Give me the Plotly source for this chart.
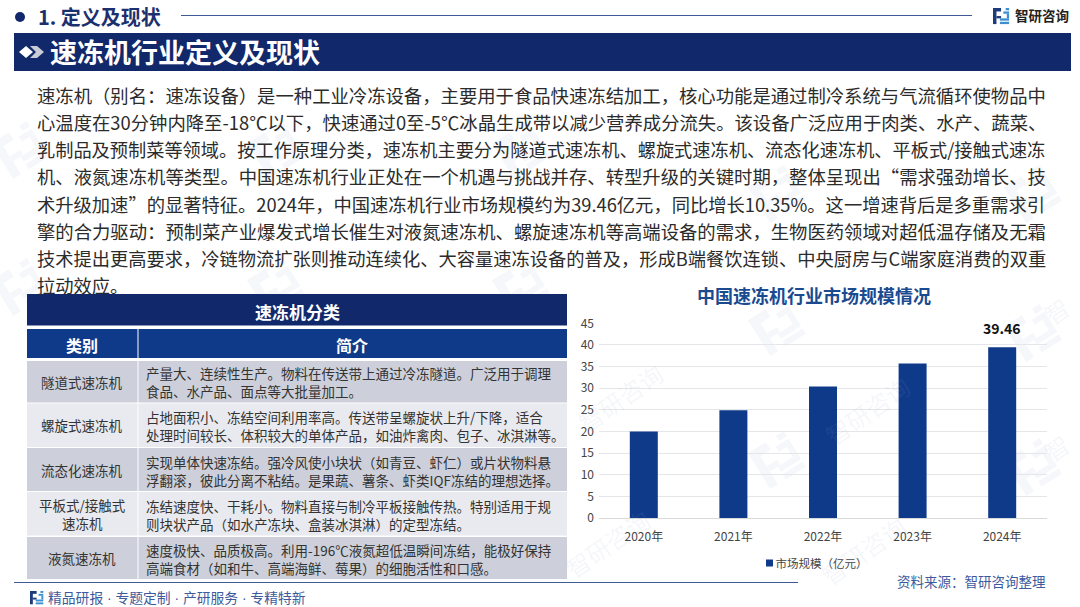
import math
import plotly.graph_objects as go

W, H = 1080, 607
CJK = "Noto Sans CJK SC"

# ---- chart data
years = ["2020年", "2021年", "2022年", "2023年", "2024年"]
market_size = [20.0, 24.9, 30.4, 35.7, 39.46]
bar_labels = ["", "", "", "", "39.46"]
series_name = "市场规模（亿元）"
chart_title = "中国速冻机行业市场规模情况"

# ---- text
section_title = "1. 定义及现状"
banner_title = "速冻机行业定义及现状"
brand = "智研咨询"
footer_text = "精品研报 · 专题定制 · 产研服务 · 专精特新"
source_text = "资料来源：智研咨询整理"
body_lines = [
    "速冻机（别名：速冻设备）是一种工业冷冻设备，主要用于食品快速冻结加工，核心功能是通过制冷系统与气流循环使物品中",
    "心温度在30分钟内降至-18℃以下，快速通过0至-5℃冰晶生成带以减少营养成分流失。该设备广泛应用于肉类、水产、蔬菜、",
    "乳制品及预制菜等领域。按工作原理分类，速冻机主要分为隧道式速冻机、螺旋式速冻机、流态化速冻机、平板式/接触式速冻",
    "机、液氮速冻机等类型。中国速冻机行业正处在一个机遇与挑战并存、转型升级的关键时期，整体呈现出“需求强劲增长、技",
    "术升级加速”的显著特征。2024年，中国速冻机行业市场规模约为39.46亿元，同比增长10.35%。这一增速背后是多重需求引",
    "擎的合力驱动：预制菜产业爆发式增长催生对液氮速冻机、螺旋速冻机等高端设备的需求，生物医药领域对超低温存储及无霜",
    "技术提出更高要求，冷链物流扩张则推动连续化、大容量速冻设备的普及，形成B端餐饮连锁、中央厨房与C端家庭消费的双重",
    "拉动效应。",
]
body_sizes = [18.35, 18.35, 18.22, 18.35, 18.3, 18.35, 18.25, 18.3]
table_title = "速冻机分类"
table_headers = ["类别", "简介"]
table_types = [
    ["隧道式速冻机"],
    ["螺旋式速冻机"],
    ["流态化速冻机"],
    ["平板式/接触式", "速冻机"],
    ["液氮速冻机"],
]
table_desc = [
    ["产量大、连续性生产。物料在传送带上通过冷冻隧道。广泛用于调理", "食品、水产品、面点等大批量加工。"],
    ["占地面积小、冻结空间利用率高。传送带呈螺旋状上升/下降，适合", "处理时间较长、体积较大的单体产品，如油炸禽肉、包子、冰淇淋等。"],
    ["实现单体快速冻结。强冷风使小块状（如青豆、虾仁）或片状物料悬", "浮翻滚，彼此分离不粘结。是果蔬、薯条、虾类IQF冻结的理想选择。"],
    ["冻结速度快、干耗小。物料直接与制冷平板接触传热。特别适用于规", "则块状产品（如水产冻块、盒装冰淇淋）的定型冻结。"],
    ["速度极快、品质极高。利用-196℃液氮超低温瞬间冻结，能极好保持", "高端食材（如和牛、高端海鲜、莓果）的细胞活性和口感。"],
]

NAVY = "#11286b"
BLUE = "#0f3a8a"


def px(x):
    return x / W


def py(y):
    return 1 - y / H


shapes, annos = [], []


def rect(x0, y0, x1, y1, color):
    shapes.append(dict(type="rect", xref="paper", yref="paper", x0=px(x0), x1=px(x1),
                       y0=py(y0), y1=py(y1), fillcolor=color, line=dict(width=0), layer="below"))


def line(x0, y, x1, color, w=1.2):
    shapes.append(dict(type="line", xref="paper", yref="paper", x0=px(x0), x1=px(x1),
                       y0=py(y), y1=py(y), line=dict(color=color, width=w), layer="below"))


def poly(points, color):
    d = "M " + " L ".join(f"{px(a)} {py(b)}" for a, b in points) + " Z"
    shapes.append(dict(type="path", xref="paper", yref="paper", path=d, fillcolor=color,
                       line=dict(width=0), layer="below"))


def text(x, y, s, size, color, anchor="left", bold=False, angle=0, family=CJK):
    annos.append(dict(xref="paper", yref="paper", x=px(x), y=py(y), text=f"<b>{s}</b>" if bold else s,
                      showarrow=False, xanchor=anchor, yanchor="middle", textangle=angle,
                      font=dict(family=family, size=size, color=color), borderpad=0, borderwidth=0))


LOGO_BLOCKS_DARK = [(0, 0, 7, 3), (0, 0, 3, 14), (3, 7, 7, 9)]
LOGO_BLOCKS_LIGHT = [(9, 3, 14, 5), (12, 5, 14, 9), (6, 9, 14, 11), (6, 12, 14, 14), (11, 0, 14, 2)]


def logo(x, y, s):
    for a, b, c, d in LOGO_BLOCKS_DARK:
        rect(x + a * s, y + b * s, x + c * s, y + d * s, "#1d3c7c")
    for a, b, c, d in LOGO_BLOCKS_LIGHT:
        rect(x + a * s, y + b * s, x + c * s, y + d * s, "#3c8fd0")


def wm_logo(cx, cy, s=3.0, deg=-32, color="#f5f7fa"):
    t = math.radians(deg)
    for a, b, c, d in LOGO_BLOCKS_DARK + LOGO_BLOCKS_LIGHT:
        pts = []
        for u, v in [(a, b), (c, b), (c, d), (a, d)]:
            dx, dy = (u - 7) * s, (v - 7) * s
            pts.append((cx + dx * math.cos(t) - dy * math.sin(t), cy + dx * math.sin(t) + dy * math.cos(t)))
        poly(pts, color)


# faint watermark
for wx, wy in [(20, 150), (20, 287), (276, 150), (276, 287), (521, 150), (521, 287),
               (777, 194), (1033, 194), (777, 327), (1033, 333), (777, 460), (1033, 467)]:
    wm_logo(wx, wy)
for wx, wy in [(620, 397), (867, 410), (607, 543), (863, 550)]:
    text(wx, wy, brand, 24, "rgba(150,165,195,0.10)", "center", False, -35)
for wx, wy in [(1056, 310), (1056, 447)]:
    text(wx, wy, brand[0], 24, "rgba(150,165,195,0.10)", "center", False, -35)

# top band
shapes.append(dict(type="circle", xref="paper", yref="paper", x0=px(15), x1=px(25), y0=py(12), y1=py(22),
                   fillcolor=NAVY, line=dict(width=0), layer="below"))
text(38, 16.5, section_title, 20, "#1c2f6e", bold=True)
line(181, 15.5, 972, "#3f5a94")
logo(993, 8, 1.15)
text(1015, 15, brand, 13.5, "#222222", bold=True)

# banner
rect(14, 33, 1071, 71, NAVY)
poly([(19, 52), (26, 46), (33, 52), (26, 58)], "#ffffff")
poly([(30, 46), (37, 46), (44, 52), (37, 58), (30, 58), (36, 52)], "#c9ccd6")
text(50, 52, banner_title, 27, "#ffffff", bold=True)

# body text
for i, s in enumerate(body_lines):
    text(37, 95 + i * 27.15, s, body_sizes[i], "#2b2b2b")

# table
rect(27, 294, 567, 325.5, NAVY)
text(297, 311, table_title, 17, "#ffffff", "center", True)
rect(27, 329, 137.5, 358, BLUE)
rect(138.5, 329, 567, 358, BLUE)
text(82, 345, table_headers[0], 16, "#ffffff", "center", True)
text(352, 345, table_headers[1], 16, "#ffffff", "center", True)
row_tops = [361, 403.5, 448, 492, 537]
row_bots = [402.5, 447, 491, 535.5, 579]
row_cols = ["#cdd0da", "#e9eaef", "#cdd0da", "#e9eaef", "#cdd0da"]
row_line1 = [373, 417, 462, 506, 550]
for i in range(5):
    rect(27, row_tops[i], 137.5, row_bots[i], row_cols[i])
    rect(138.5, row_tops[i], 567, row_bots[i], row_cols[i])
    for j, s in enumerate(table_desc[i]):
        text(146, row_line1[i] + j * 17.7, s, 13.5, "#333333")
    t = table_types[i]
    cy = (row_tops[i] + row_bots[i]) / 2
    for j, s in enumerate(t):
        text(82, cy + (j - (len(t) - 1) / 2) * 17.5, s, 13.5, "#333333", "center")

# footer
line(14, 582.5, 798, "#3f5a94")
logo(30, 591, 0.95)
text(48, 598, footer_text, 13.8, "#3c5a9c", family="Liberation Sans, " + CJK)
text(1046, 581, source_text, 13.5, "#3c5a9c", "right")

# chart title
text(813.5, 295, chart_title, 18, "#1a4a90", "center", True)

# data labels, placed from the series values
for yr, v, lab in zip(years, market_size, bar_labels):
    if lab:
        annos.append(dict(xref="x", yref="y", x=yr, y=v, text=f"<b>{lab}</b>", showarrow=False,
                          yanchor="bottom", yshift=7, font=dict(family=CJK, size=14, color="#111111")))

fig = go.Figure(go.Bar(
    x=years, y=market_size, name=series_name, width=0.3125,
    marker=dict(color=BLUE, line=dict(width=0)),
    hoverinfo="skip", showlegend=True,
))
fig.update_layout(
    width=W, height=H, margin=dict(l=0, r=0, t=0, b=0, autoexpand=False),
    paper_bgcolor="white", plot_bgcolor="rgba(0,0,0,0)",
    shapes=shapes, annotations=annos, bargap=0.6875,
    font=dict(family=CJK, size=12, color="#444444"),
    xaxis=dict(domain=[px(599), px(1047)], type="category", showgrid=False, ticks="", anchor="y",
               showline=True, linecolor="#d9d9d9", tickfont=dict(size=12, color="#444444"), ticklabelstandoff=8,
               automargin=False),
    yaxis=dict(domain=[py(518), py(323.3)], range=[0, 45], dtick=5, tick0=0, showgrid=True, gridcolor="#e4e6ea",
               gridwidth=1, zeroline=False, ticks="", tickfont=dict(size=12, color="#444444"), ticklabelstandoff=4,
               automargin=False),
    legend=dict(orientation="h", x=px(804), xanchor="center", y=py(563), yanchor="middle",
                font=dict(size=11.5, color="#444444"), bgcolor="rgba(0,0,0,0)", itemwidth=30),
)
fig.write_html(
    "out.html",
    config=dict(displayModeBar=False),
    post_script=(
        "document.body.style.margin='0';document.body.style.overflow='hidden';"
        "document.querySelectorAll('.legendpoints path').forEach(function(p){"
        "p.setAttribute('transform','translate(34,0) scale(0.58)');});"
    ),
)
